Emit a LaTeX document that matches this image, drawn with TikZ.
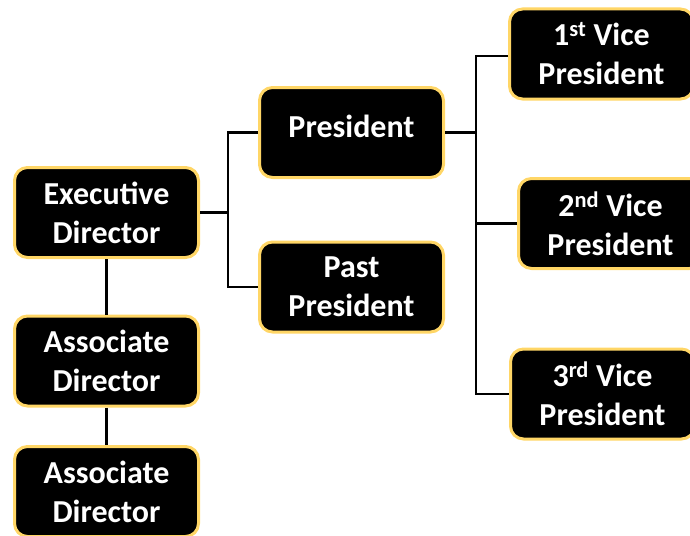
\documentclass[tikz,border=0pt]{standalone}
\usepackage{fontspec}
\setmainfont{Carlito}
\definecolor{gold}{RGB}{255,214,102}
\begin{document}
\begin{tikzpicture}[x=1pt,y=-1pt,
  box/.style={draw=gold, line width=3pt, fill=black, rounded corners=13pt,
    minimum width=184pt, minimum height=90pt, inner sep=0pt},
  txt/.style={text=white, font=\fontsize{32}{39}\selectfont\bfseries, align=center, inner sep=0pt},
  conn/.style={draw=black, line width=2.5pt}]
\useasboundingbox (0,0) rectangle (690,535);
\clip (0,0) rectangle (690,535);
% boxes
\node[box] (exec) at (106.5,212.5) {};
\node[box] (pres) at (351.5,132.5) {};
\node[box] (past) at (351.5,287) {};
\node[box] (vp1) at (601.5,54) {};
\node[box] (vp2) at (610.5,223.5) {};
\node[box] (vp3) at (602.5,394) {};
\node[box] (ad1) at (106.5,361) {};
\node[box] (ad2) at (106.5,491.5) {};
% texts
\node[txt] (texec) at (exec) {Executive\\Director};
\node[txt] (tpres) at (351.5,126) {President};
\node[txt] (tpast) at (past) {Past\\President};
\node[txt] (tvp1) at (vp1) {1\textsuperscript{st} Vice\\President};
\node[txt] (tvp2) at (vp2) {2\textsuperscript{nd} Vice\\President};
\node[txt] (tvp3) at (vp3) {3\textsuperscript{rd} Vice\\President};
\node[txt] (tad1) at (ad1) {Associate\\Director};
\node[txt] (tad2) at (ad2) {Associate\\Director};
% bus coordinates
\coordinate (busA) at (228,0);
\coordinate (busB) at (476,0);
% connectors
\draw[conn] (exec.east) -- (exec.east -| busA);
\draw[conn] (pres.west) -| (past.west -| busA) -- (past.west);
\draw[conn] (pres.east) -- (pres.east -| busB);
\draw[conn] ([yshift=-2pt]vp1.west) -| (vp3.west -| busB) -- (vp3.west);
\draw[conn] (vp2.west -| busB) -- (vp2.west);
\draw[conn] (exec.south) -- (ad1.north);
\draw[conn] (ad1.south) -- (ad2.north);
\end{tikzpicture}
\end{document}
